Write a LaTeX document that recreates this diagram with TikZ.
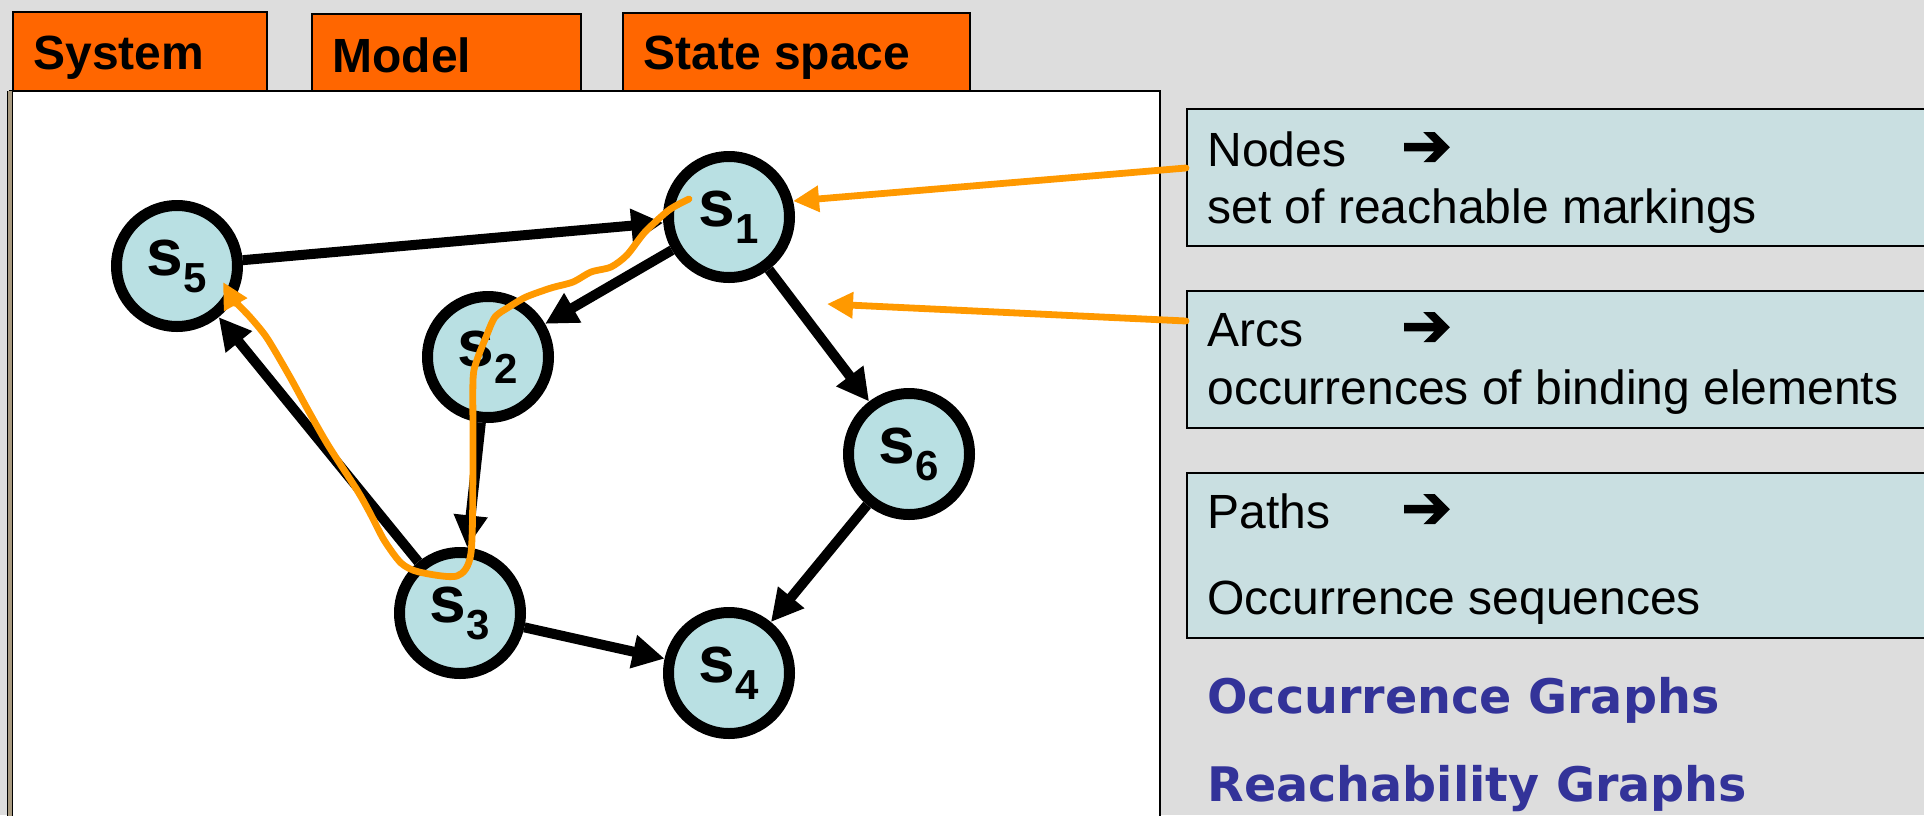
\documentclass[tikz,border=0pt]{standalone}
\usepackage{fontspec}
\setmainfont{Liberation Sans}
\newfontfamily\headfont{DejaVu Sans}
\newfontfamily\symfont{DejaVu Sans}[RawFeature={embolden=2.5}]
\usetikzlibrary{arrows.meta}

\definecolor{bg}{RGB}{221,221,221}
\definecolor{tabfill}{RGB}{255,102,0}
\definecolor{statefill}{RGB}{185,224,227}
\definecolor{notefill}{RGB}{201,223,225}
\definecolor{hl}{RGB}{255,153,0}
\definecolor{headblue}{RGB}{51,51,153}
\definecolor{rim}{RGB}{168,154,128}

% subscript index of a state label
\newcommand{\stidx}[1]{\raisebox{-8.5pt}{\fontsize{21}{21}\selectfont #1}}

\begin{document}
\begin{tikzpicture}[x=0.5pt,y=-0.5pt,
  state/.style={circle, draw=black, line width=5.5pt, fill=statefill,
    minimum size=60.5pt, inner sep=0pt,
    font=\fontsize{33}{36}\selectfont\bfseries},
  flow/.style={line width=5pt, -{Triangle[length=16pt,width=16pt]}},
  hand/.style={draw=hl, line width=3.4pt, line cap=round, line join=round},
  handtip/.style={-{Triangle[length=13pt,width=12.5pt]}},
  tabbox/.style={draw=black, line width=1pt, fill=tabfill, anchor=north west,
    inner sep=0pt},
  tabtext/.style={anchor=base west, inner sep=0pt,
    font=\fontsize{24}{28}\selectfont\bfseries},
  notebox/.style={draw=black, line width=1pt, fill=notefill, anchor=north west,
    inner sep=0pt, minimum width=380pt},
  notetext/.style={anchor=base west, inner sep=0pt,
    font=\fontsize{24}{28}\selectfont},
  arrowglyph/.style={anchor=base west, inner sep=0pt,
    font=\symfont\fontsize{30}{32}\selectfont},
  heading/.style={anchor=base west, inner sep=0pt, text=headblue,
    font=\headfont\bfseries\fontsize{23.8}{28}\selectfont}]

\useasboundingbox (0,0) rectangle (1924,815);
\clip (0,0) rectangle (1924,815);
\fill[bg] (0,0) rectangle (1924,815);

% drawing area
\draw[line width=1pt, fill=white] (10,91) rectangle (1160,840);
\fill[rim] (8,91) rectangle (12,840);
\draw[line width=0.7pt] (7.5,91) -- (7.5,840);
\draw[line width=0.7pt] (12.5,91) -- (12.5,840);

% tabs
\node[tabbox, minimum width=127pt, minimum height=39.5pt] (tsys) at (12,11) {};
\node[tabbox, minimum width=134.5pt, minimum height=38.5pt] (tmod) at (311,13) {};
\node[tabbox, minimum width=173.5pt, minimum height=39pt] (tss) at (622,12) {};
\node[tabtext] (lsys) at (33,69) {System};
\node[tabtext] (lmod) at (332,72) {Model};
\node[tabtext] (lss) at (643,69) {State space};

% explanation boxes
\node[notebox, minimum height=68.5pt] (nbox) at (1186,108) {};
\node[notebox, minimum height=68.5pt] (abox) at (1186,290) {};
\node[notebox, minimum height=82.5pt] (pbox) at (1186,472) {};

\node[notetext] (n1) at (1207,166) {Nodes};
\node[arrowglyph] (n2) at (1401,166) {➔};
\node[notetext] (n3) at (1207,223) {set of reachable markings};
\node[notetext] (a1) at (1207,346) {Arcs};
\node[arrowglyph] (a2) at (1401,346) {➔};
\node[notetext] (a3) at (1207,404) {occurrences of binding elements};
\node[notetext] (p1) at (1207,528) {Paths};
\node[arrowglyph] (p2) at (1401,528) {➔};
\node[notetext] (p3) at (1207,614) {Occurrence sequences};

\node[heading] (h1) at (1207,713) {Occurrence Graphs};
\node[heading] (h2) at (1207,801) {Reachability Graphs};

% state space graph
\node[state] (s1) at (729,217) {s\stidx{1}};
\node[state] (s5) at (177,266) {s\stidx{5}};
\node[state] (s2) at (488,357) {s\stidx{2}};
\node[state] (s6) at (909,454) {s\stidx{6}};
\node[state] (s3) at (460,613) {s\stidx{3}};
\node[state] (s4) at (729,673) {s\stidx{4}};

\draw[flow] (s5) -- (s1);
\draw[flow] (s1) -- (s2);
\draw[flow] (s2) -- (s3);
\draw[flow] (s3) -- (s5);
\draw[flow] (s1) -- (s6);
\draw[flow] (s6) -- (s4);
\draw[flow] (s3) -- (s4);

% pointers from the explanations
\coordinate (nfrom) at ([yshift=4.75pt]nbox.west);
\coordinate (afrom) at ([yshift=19.25pt]abox.west);
\coordinate (arcpt) at (827,304);
\draw[hand, handtip] (nfrom) -- (s1.14);
\draw[hand, handtip] (afrom) -- (arcpt);

% an occurrence sequence s1 -> s2 -> s3 -> s5
\draw[hand, handtip] plot[smooth, tension=0.45] coordinates {
  (689,199) (669,210) (645,232) (627,255) (611,267) (591,272) (573,282)
  (551,288) (526,297) (509,307) (495,317) (486,337) (477,360) (473,380)
  (473,460) (471,553) (457,576) (419,572) (401,563) (384,540) (370,513)
  (357,490) (328,445) (308,410) (290,377) (267,338) (250,317) (234,300)
  (223,282)};
\end{tikzpicture}
\end{document}
